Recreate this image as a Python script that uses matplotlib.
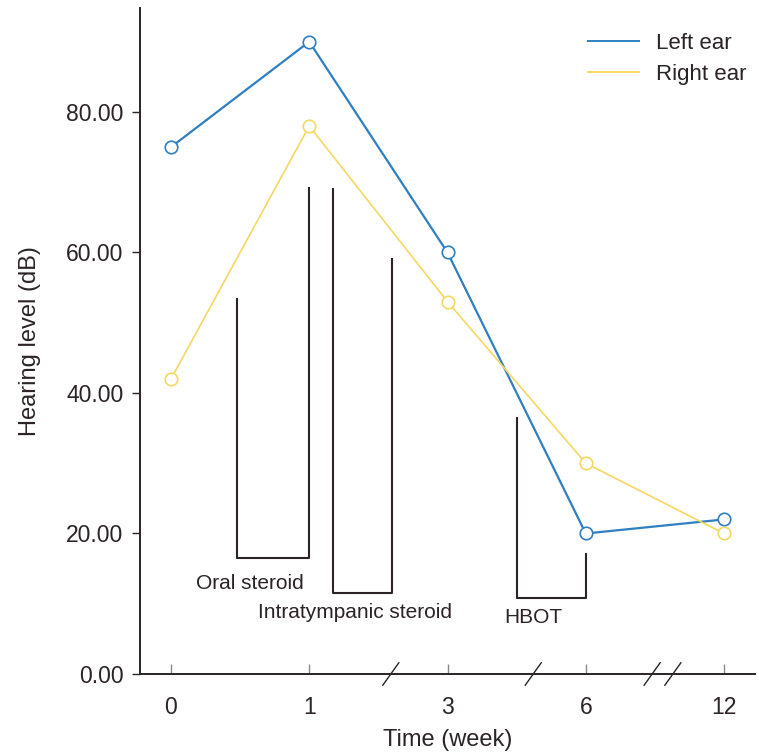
import matplotlib
matplotlib.use("Agg")
import matplotlib.pyplot as plt
from matplotlib.lines import Line2D

plt.rcParams['font.family'] = ['Liberation Sans', 'DejaVu Sans']

# Data
weeks = ["0", "1", "3", "6", "12"]
left_ear = [75, 90, 60, 20, 22]
right_ear = [42, 78, 53, 30, 20]
yticks = [0, 20, 40, 60, 80]

# Treatment brackets: (x_left, x_right, y_bottom, y_left_top, y_right_top)
oral_steroid = (0.477, 1.0, 16.5, 53.4, 69.2)
intratympanic = (1.172, 1.599, 11.5, 69.0, 59.1)
hbot = (2.503, 3.0, 10.8, 36.4, 17.1)
bracket_labels = ["Oral steroid", "Intratympanic steroid", "HBOT"]
label_pos = [(0.57, 12.9), (1.33, 8.8), (2.62, 8.1)]
break_pos = [1.59, 2.62, 3.48, 3.63]

BLUE = "#2f7fc1"
YELLOW = "#f5d862"
DARK = "#2b2325"

fig = plt.figure(figsize=(7.59, 7.55), dpi=100)
ax = fig.add_axes([140/759, 1-674/755, (755-140)/759, (674-8)/755])

x = list(range(len(weeks)))
ax.plot(x, left_ear, color=BLUE, lw=1.6, marker='o', ms=9, mfc='white',
        mec=BLUE, mew=1.2, zorder=3)
ax.plot(x, right_ear, color=YELLOW, lw=1.2, marker='o', ms=9, mfc='white',
        mec=YELLOW, mew=1.2, zorder=3)

for (x0, x1, yb, yl, yr) in [oral_steroid, intratympanic, hbot]:
    ax.plot([x0, x0, x1, x1], [yl, yb, yb, yr], color=DARK, lw=1.5, zorder=2)

for lbl, (lx, ly) in zip(bracket_labels, label_pos):
    ax.text(lx, ly, lbl, ha='center', va='center', fontsize=15, color=DARK)

ax.set_xlim(-0.224, 4.224)
ax.set_ylim(0, 94.8)
ax.set_xticks(x)
ax.set_xticklabels(weeks)
ax.set_yticks(yticks)
ax.set_yticklabels([f"{v:.2f}" for v in yticks])

for s in ['top', 'right']:
    ax.spines[s].set_visible(False)
for s in ['left', 'bottom']:
    ax.spines[s].set_color(DARK)
    ax.spines[s].set_linewidth(1.4)

ax.tick_params(axis='x', direction='in', length=7, width=1, color='#888888',
               labelsize=16.5, labelcolor=DARK, pad=16)
ax.tick_params(axis='y', direction='out', length=6, width=1, color=DARK,
               labelsize=16.5, labelcolor=DARK, pad=6)

# axis break marks
for bx in break_pos:
    ax.plot([bx - 0.058, bx + 0.058], [-1.6, 1.6], color=DARK, lw=1.0,
            clip_on=False, zorder=4)

ax.set_xlabel("Time (week)", fontsize=17, color=DARK, labelpad=7)
ax.set_ylabel("Hearing level (dB)", fontsize=17, color=DARK, labelpad=18)

handles = [Line2D([], [], color=BLUE, lw=1.4), Line2D([], [], color=YELLOW, lw=1.4)]
ax.legend(handles, ["Left ear", "Right ear"], loc='upper left',
          bbox_to_anchor=(568/759, 1-13/755), bbox_transform=fig.transFigure,
          frameon=False, fontsize=16, handlelength=2.3, handletextpad=0.75,
          labelspacing=0.45, labelcolor=DARK)

fig.savefig("out.png", dpi=100)
